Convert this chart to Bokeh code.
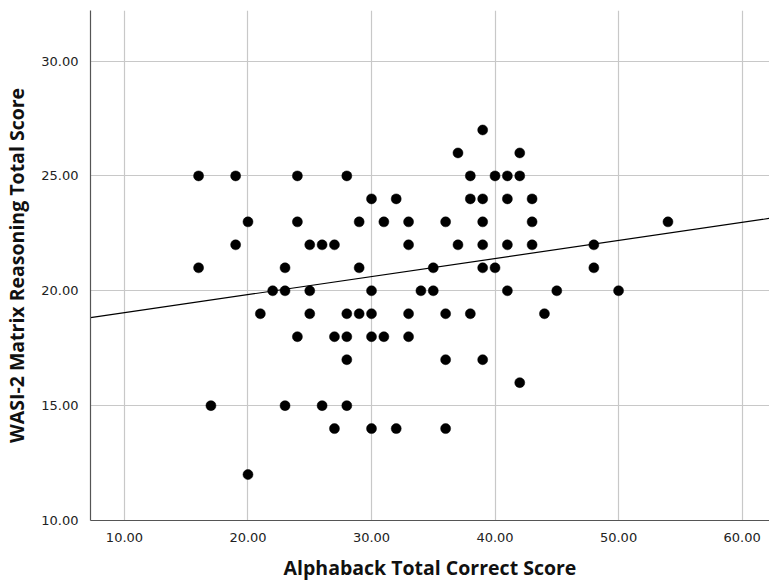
import numpy as np
from bokeh.plotting import figure
from bokeh.models import NumeralTickFormatter, FixedTicker, Range1d
from bokeh.embed import file_html
from bokeh.resources import INLINE

alphaback_scores = [
    39,
    37, 42,
    16, 19, 24, 28, 38, 40, 41, 42,
    30, 32, 38, 39, 41, 43,
    20, 24, 29, 31, 33, 36, 39, 43, 54,
    19, 25, 26, 27, 33, 37, 39, 41, 43, 48,
    16, 23, 29, 35, 39, 40, 48,
    22, 23, 25, 30, 34, 35, 41, 45, 50,
    21, 25, 28, 29, 30, 33, 36, 38, 44,
    24, 27, 28, 30, 31, 33,
    28, 36, 39,
    42,
    17, 23, 26, 28,
    27, 30, 32, 36,
    20,
]
wasi_scores = (
    [27] * 1 + [26] * 2 + [25] * 8 + [24] * 6 + [23] * 9 + [22] * 10 + [21] * 7
    + [20] * 9 + [19] * 9 + [18] * 6 + [17] * 3 + [16] * 1 + [15] * 4 + [14] * 4 + [12] * 1
)
# fit line as shown in the chart
fit_intercept = 18.26
fit_slope = 0.0786

x_ticks = [10, 20, 30, 40, 50, 60]
y_ticks = [10, 15, 20, 25, 30]

x_lo, x_hi = 7.25, 62.22
y_lo, y_hi = 10.0, 32.2

p = figure(width=769, height=584, output_backend="svg", toolbar_location=None,
           x_range=Range1d(x_lo, x_hi), y_range=Range1d(y_lo, y_hi),
           min_border_left=90, min_border_right=0, min_border_top=10, min_border_bottom=64)
p.outline_line_color = None
p.background_fill_color = "white"
p.border_fill_color = "white"

lx = [x_lo, x_hi]
ly = [fit_intercept + fit_slope * v for v in lx]

p.line(lx, ly, line_color="black", line_width=1.2)
p.scatter(alphaback_scores, wasi_scores, size=10, fill_color="black", line_color="black", line_width=0.5)

for ax in (p.xaxis[0], p.yaxis[0]):
    ax.formatter = NumeralTickFormatter(format="0.00")
    ax.major_tick_line_color = None
    ax.minor_tick_line_color = None
    ax.axis_line_color = "#555555"
    ax.axis_line_width = 1.2
    ax.major_label_text_font = "DejaVu Sans"
    ax.major_label_text_font_size = "13px"
    ax.major_label_text_color = "#222222"
    ax.axis_label_text_font = "Open Sans"
    ax.axis_label_text_font_style = "bold"
    ax.axis_label_text_font_size = "19.5px"
    ax.axis_label_text_color = "#111111"
    ax.major_label_standoff = 6

p.xaxis[0].ticker = FixedTicker(ticks=x_ticks)
p.yaxis[0].ticker = FixedTicker(ticks=y_ticks)
p.xaxis[0].axis_label = "Alphaback Total Correct Score"
p.yaxis[0].axis_label = "WASI-2 Matrix Reasoning Total Score"
p.xaxis[0].axis_label_standoff = 9
p.yaxis[0].axis_label_standoff = 8

for g in (p.xgrid[0], p.ygrid[0]):
    g.grid_line_color = "#c8c8c8"
    g.grid_line_width = 1.2
p.xgrid[0].ticker = FixedTicker(ticks=x_ticks)
p.ygrid[0].ticker = FixedTicker(ticks=y_ticks)

open("out.html", "w").write(file_html(p, INLINE))
